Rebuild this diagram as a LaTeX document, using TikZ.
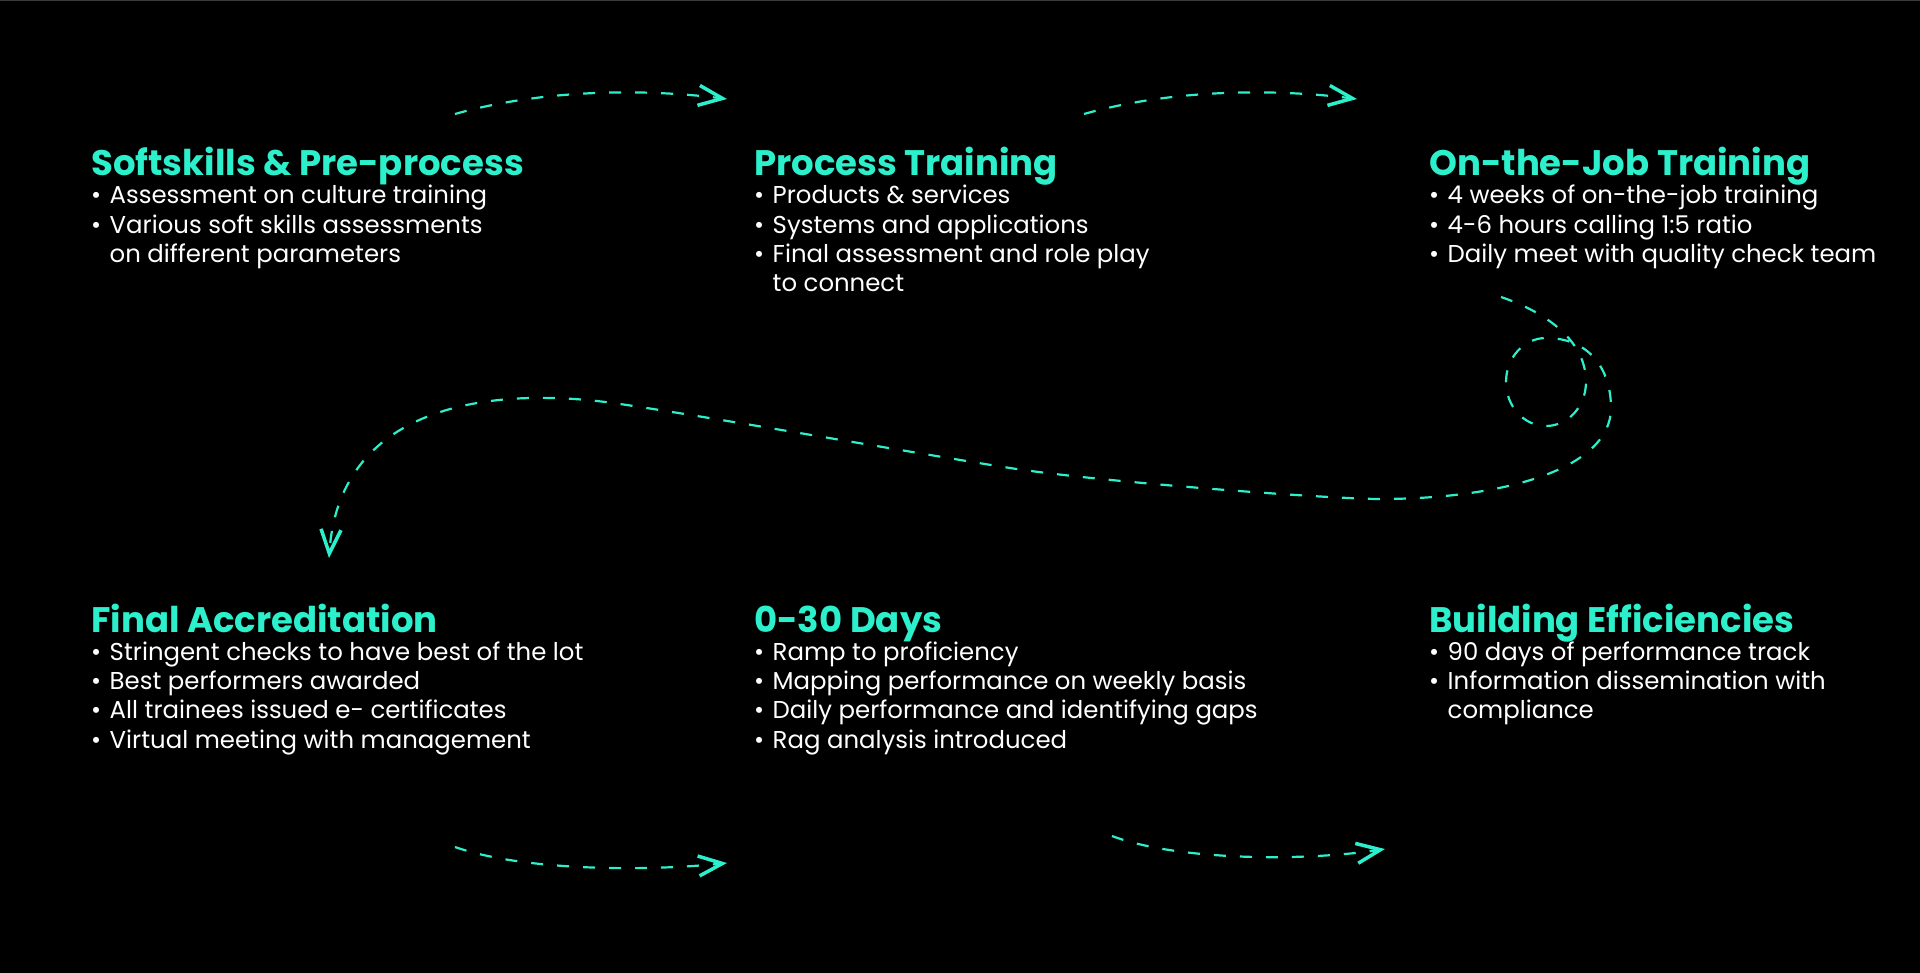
\documentclass[tikz,border=0pt]{standalone}
\usepackage{fontspec}
\setmainfont{Poppins}
\usepackage{tikz}
\usetikzlibrary{arrows.meta}
\definecolor{mainTeal}{HTML}{2CEFCB}
\definecolor{topGrey}{HTML}{3A3A3A}
\newlength\itmw
\setlength\itmw{18.5pt}
\newcommand\itm[1]{\makebox[\itmw][l]{•}#1}
\newcommand\cnt[1]{\hspace*{\itmw}#1}
\newenvironment{itmlist}{\begin{tabular}[t]{@{}l@{}}}{\end{tabular}}

\begin{document}
\begin{tikzpicture}[x=1pt,y=-1pt,
  stageTitle/.style={anchor=base west,inner sep=0pt,text=mainTeal,font=\fontsize{35.5}{42}\selectfont\bfseries},
  stageList/.style={anchor=base west,inner sep=0pt,text=white,font=\fontsize{24.4}{29.2}\selectfont},
  flowArrow/.style={mainTeal,line width=2.2pt,dash pattern=on 12pt off 14pt,
    -{Straight Barb[length=24pt,width=20pt,line width=3.5pt]}}]
\fill[black] (0,0) rectangle (1920,973);
\fill[topGrey] (0,0) rectangle (1920,1.5);
\useasboundingbox (0,0) rectangle (1920,973);
% ust sira
\node[stageTitle] (soft) at (91,175.5) {Softskills \& Pre-process};
\node[stageList] (softL) at (91,204) {\begin{itmlist}\itm{Assessment on culture training}\\\itm{Various soft skills assessments}\\\cnt{on different parameters}\end{itmlist}};
\node[stageTitle] (proc) at (754,175.5) {Process Training};
\node[stageList] (procL) at (754,204) {\begin{itmlist}\itm{Products \& services}\\\itm{Systems and applications}\\\itm{Final assessment and role play}\\\cnt{to connect}\end{itmlist}};
\node[stageTitle] (ojt) at (1429,175.5) {On-the-Job Training};
\node[stageList] (ojtL) at (1429,204) {\begin{itmlist}\itm{4 weeks of on-the-job training}\\\itm{4-6 hours calling 1:5 ratio}\\\itm{Daily meet with quality check team}\end{itmlist}};
% alt sira
\node[stageTitle] (accr) at (91,632.5) {Final Accreditation};
\node[stageList] (accrL) at (91,660.5) {\begin{itmlist}\itm{Stringent checks to have best of the lot}\\\itm{Best performers awarded}\\\itm{All trainees issued e- certificates}\\\itm{Virtual meeting with management}\end{itmlist}};
\node[stageTitle] (days) at (754,632.5) {0-30 Days};
\node[stageList] (daysL) at (754,660.5) {\begin{itmlist}\itm{Ramp to proficiency}\\\itm{Mapping performance on weekly basis}\\\itm{Daily performance and identifying gaps}\\\itm{Rag analysis introduced}\end{itmlist}};
\node[stageTitle] (eff) at (1429,632.5) {Building Efficiencies};
\node[stageList] (effL) at (1429,660.5) {\begin{itmlist}\itm{90 days of performance track}\\\itm{Information dissemination with}\\\cnt{compliance}\end{itmlist}};
% oklar
\coordinate (a1s) at (455,114); \coordinate (a1e) at (727,99);
\coordinate (a2s) at (1084,114); \coordinate (a2e) at (1357,99);
\coordinate (b1s) at (455,847); \coordinate (b1e) at (727,863);
\coordinate (b2s) at (1112,836); \coordinate (b2e) at (1385,849);
\draw[flowArrow] (a1s) .. controls (540,90) and (640,88) .. (a1e);
\draw[flowArrow] (a2s) .. controls (1169,90) and (1269,88) .. (a2e);
\draw[flowArrow] (b1s) .. controls (520,870) and (640,872) .. (b1e);
\draw[flowArrow] (b2s) .. controls (1175,860) and (1300,862) .. (b2e);
% donen ok
\coordinate (loopS) at (1501,297);
\coordinate (loopE) at (329,558);
\draw[flowArrow] (loopS) .. controls (1545,312) and (1586,340) .. (1586,382)
  .. controls (1586,406.3) and (1568.1,426) .. (1546,426)
  .. controls (1523.9,426) and (1506,406.3) .. (1506,382)
  .. controls (1506,357.7) and (1523.9,338) .. (1546,338)
  .. controls (1590,338) and (1611,370) .. (1611,408)
  .. controls (1611,470) and (1500,499) .. (1380,499)
  .. controls (1330,499) and (1100,482) .. (1010,468)
  .. controls (920,454) and (710,417) .. (620,404)
  .. controls (500,386) and (340,400) .. (loopE);
\end{tikzpicture}
\end{document}
